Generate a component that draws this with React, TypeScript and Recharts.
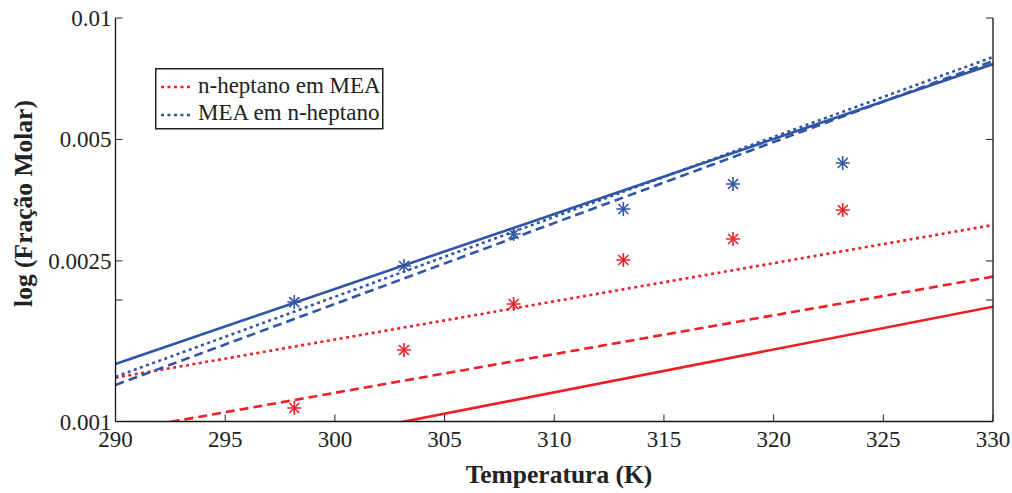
import React from "react";
import { ComposedChart, Line, Scatter, XAxis, YAxis } from "recharts";

// Temperatures (K) for the model lines (end points of each straight line)
const lineTemps = [290, 330];
// Model curves (mole fraction)
const blueSolid = [0.001389, 0.00769];
const blueDotted = [0.001291, 0.008005];
const blueDashed = [0.001232, 0.00782];
const redDotted = [0.001284, 0.003069];
const redDashed = [0.000944, 0.002286];
const redSolid = [0.000725, 0.001925];

// Experimental points
const expTemps = [298.15, 303.15, 308.15, 313.15, 318.15, 323.15];
const blueExp = [0.001977, 0.002428, 0.002915, 0.003362, 0.003879, 0.004371];
const redExp = [0.00108, 0.001504, 0.001955, 0.002513, 0.002834, 0.003343];

const xTicks = [290, 295, 300, 305, 310, 315, 320, 325, 330];
const yTicks = [0.001, 0.002, 0.0025, 0.005, 0.01];
const yLabelled = [0.001, 0.0025, 0.005, 0.01];

const legendItems = [
  { label: "n-heptano em MEA", color: "#ed2027" },
  { label: "MEA em n-heptano", color: "#2f55a5" },
];

const RED = "#ed2027";
const BLUE = "#2f55a5";
const FONT = "Liberation Serif, Times New Roman, serif";

const mk = (xs: number[], ys: number[]) => xs.map((x, i) => ({ x, y: ys[i] }));

const BottomTick = (props: any) => {
  const { x, y, payload } = props;
  return (
    <g>
      <line x1={x} x2={x} y1={y} y2={y - 7} stroke="#222" strokeWidth={1} />
      <text x={x} y={y + 25.5} textAnchor="middle" style={{ fontFamily: FONT, fontSize: 23 }} fill="#222">
        {payload.value}
      </text>
    </g>
  );
};

const TopTick = (props: any) => {
  const { x, y } = props;
  return <line x1={x} x2={x} y1={y} y2={y + 7} stroke="#222" strokeWidth={1} />;
};

const LeftTick = (props: any) => {
  const { x, y, payload } = props;
  const show = yLabelled.includes(payload.value);
  return (
    <g>
      <line x1={x} x2={x + 7} y1={y} y2={y} stroke="#222" strokeWidth={1} />
      {show && (
        <text x={x - 4} y={y + 8} textAnchor="end" style={{ fontFamily: FONT, fontSize: 23 }} fill="#222">
          {String(payload.value)}
        </text>
      )}
    </g>
  );
};

const RightTick = (props: any) => {
  const { x, y } = props;
  return <line x1={x} x2={x - 7} y1={y} y2={y} stroke="#222" strokeWidth={1} />;
};

const makeAsterisk = (color: string) => (props: any) => {
  const { cx, cy } = props;
  const r = 7;
  const d = 5;
  return (
    <g stroke={color} strokeWidth={1.6}>
      <line x1={cx - r} x2={cx + r} y1={cy} y2={cy} />
      <line x1={cx} x2={cx} y1={cy - r} y2={cy + r} />
      <line x1={cx - d} x2={cx + d} y1={cy - d} y2={cy + d} />
      <line x1={cx - d} x2={cx + d} y1={cy + d} y2={cy - d} />
    </g>
  );
};

const axisLine = { stroke: "#111", strokeWidth: 1.3 };

export default function App() {
  return (
    <div style={{ position: "absolute", left: 0, top: 0, width: 1012, height: 493, background: "#fff", fontFamily: FONT }}>
      <ComposedChart width={1012} height={493} margin={{ top: 18, right: 0, bottom: 0, left: 0 }}>
        <XAxis
          xAxisId="b"
          type="number"
          dataKey="x"
          domain={[290, 330]}
          ticks={xTicks}
          interval={0}
          allowDataOverflow
          orientation="bottom"
          height={71.5}
          tickSize={0}
          tickMargin={0}
          tick={<BottomTick />}
          axisLine={axisLine}
          label={{
            content: () => (
              <text x={559} y={483} textAnchor="middle" style={{ fontFamily: FONT, fontSize: 25.5, fontWeight: "bold" }} fill="#222">
                Temperatura (K)
              </text>
            ),
          }}
        />
        <XAxis
          xAxisId="t"
          type="number"
          dataKey="x"
          domain={[290, 330]}
          ticks={xTicks}
          interval={0}
          allowDataOverflow
          orientation="top"
          height={0}
          tickSize={0}
          tickMargin={0}
          tick={<TopTick />}
          axisLine={axisLine}
        />
        <YAxis
          yAxisId="l"
          type="number"
          scale="log"
          domain={[0.001, 0.01]}
          ticks={yTicks}
          interval={0}
          allowDataOverflow
          width={115.5}
          tickSize={0}
          tickMargin={0}
          tick={<LeftTick />}
          axisLine={axisLine}
          label={{
            content: () => (
              <text
                x={31.5}
                y={203.5}
                textAnchor="middle"
                transform="rotate(-90, 31.5, 203.5)"
                style={{ fontFamily: FONT, fontSize: 25.5, fontWeight: "bold" }}
                fill="#222"
              >
                log (Fração Molar)
              </text>
            ),
          }}
        />
        <YAxis
          yAxisId="r"
          orientation="right"
          type="number"
          scale="log"
          domain={[0.001, 0.01]}
          ticks={yTicks}
          interval={0}
          allowDataOverflow
          width={19}
          tickSize={0}
          tickMargin={0}
          tick={<RightTick />}
          axisLine={axisLine}
        />

        <Line xAxisId="b" yAxisId="l" data={mk(lineTemps, redSolid)} dataKey="y" type="linear" stroke={RED} strokeWidth={2.6} dot={false} isAnimationActive={false} />
        <Line xAxisId="b" yAxisId="l" data={mk(lineTemps, redDashed)} dataKey="y" type="linear" stroke={RED} strokeWidth={2.6} strokeDasharray="9 5" dot={false} isAnimationActive={false} />
        <Line xAxisId="b" yAxisId="l" data={mk(lineTemps, redDotted)} dataKey="y" type="linear" stroke={RED} strokeWidth={2.6} strokeDasharray="3 3.5" dot={false} isAnimationActive={false} />
        <Line xAxisId="b" yAxisId="l" data={mk(lineTemps, blueSolid)} dataKey="y" type="linear" stroke={BLUE} strokeWidth={2.6} dot={false} isAnimationActive={false} />
        <Line xAxisId="b" yAxisId="l" data={mk(lineTemps, blueDashed)} dataKey="y" type="linear" stroke={BLUE} strokeWidth={2.6} strokeDasharray="9 5" dot={false} isAnimationActive={false} />
        <Line xAxisId="b" yAxisId="l" data={mk(lineTemps, blueDotted)} dataKey="y" type="linear" stroke={BLUE} strokeWidth={2.6} strokeDasharray="3 3.5" dot={false} isAnimationActive={false} />

        <Scatter xAxisId="b" yAxisId="l" data={mk(expTemps, blueExp)} dataKey="y" shape={makeAsterisk(BLUE)} isAnimationActive={false} />
        <Scatter xAxisId="b" yAxisId="l" data={mk(expTemps, redExp)} dataKey="y" shape={makeAsterisk(RED)} isAnimationActive={false} />
      </ComposedChart>

      <div style={{ position: "absolute", left: 155, top: 68 }}>
        <svg width={229} height={62}>
          <rect x={0.75} y={0.75} width={227} height={60} fill="#fff" stroke="#222" strokeWidth={1.5} />
          {legendItems.map((it, i) => (
            <g key={it.label}>
              <line x1={6} x2={37} y1={19 + i * 28} y2={19 + i * 28} stroke={it.color} strokeWidth={2.6} strokeDasharray="3 3.5" />
              <text x={43} y={24.5 + i * 27} style={{ fontFamily: FONT, fontSize: 23 }} fill="#222">
                {it.label}
              </text>
            </g>
          ))}
        </svg>
      </div>
    </div>
  );
}
